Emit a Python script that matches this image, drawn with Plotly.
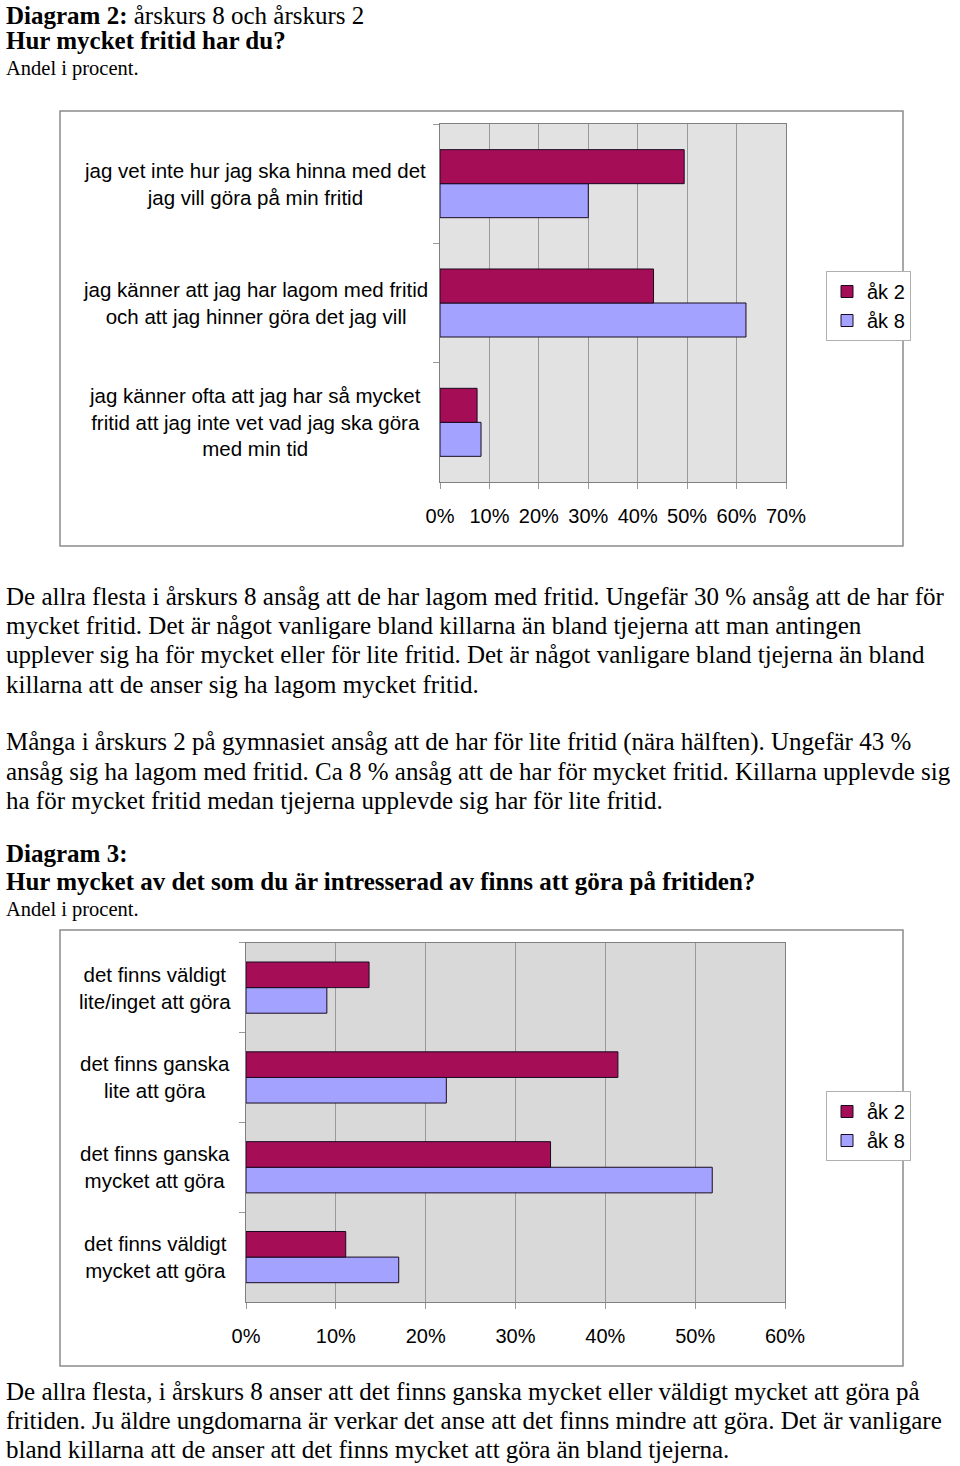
import plotly.graph_objects as go

W, H = 960, 1466

# ---------- data ----------
series_names = ["åk 2", "åk 8"]
colors = {"åk 2": "#a50d57", "åk 8": "#a3a3ff"}

# Diagram 2 (categories listed bottom -> top)
cats1 = [
    "jag känner ofta att jag har så mycket<br>fritid att jag inte vet vad jag ska göra<br>med min tid",
    "jag känner att jag har lagom med fritid<br>och att jag hinner göra det jag vill",
    "jag vet inte hur jag ska hinna med det<br>jag vill göra på min fritid",
]
ak2_d2 = [0.075, 0.432, 0.494]
ak8_d2 = [0.083, 0.619, 0.300]

# Diagram 3 (categories listed bottom -> top)
cats2 = [
    "det finns väldigt<br>mycket att göra",
    "det finns ganska<br>mycket att göra",
    "det finns ganska<br>lite att göra",
    "det finns väldigt<br>lite/inget att göra",
]
ak2_d3 = [0.111, 0.339, 0.414, 0.137]
ak8_d3 = [0.170, 0.519, 0.223, 0.090]

x_ticks1 = [0, 0.1, 0.2, 0.3, 0.4, 0.5, 0.6, 0.7]
x_ticks2 = [0, 0.1, 0.2, 0.3, 0.4, 0.5, 0.6]

# ---------- layout helpers ----------
def py(px):
    return 1 - px / H

def pxx(px):
    return px / W

SANS = "Arial, Liberation Sans, sans-serif"
SERIF = "Times New Roman, Liberation Serif, serif"

fig = go.Figure()

# Chart 1 traces (åk 8 first so it sits below åk 2 in each group)
fig.add_trace(go.Bar(y=cats1, x=ak8_d2, orientation="h", name="åk 8",
                     marker=dict(color=colors["åk 8"], line=dict(color="#1a0a20", width=1)),
                     xaxis="x", yaxis="y", legend="legend"))
fig.add_trace(go.Bar(y=cats1, x=ak2_d2, orientation="h", name="åk 2",
                     marker=dict(color=colors["åk 2"], line=dict(color="#1a0a20", width=1)),
                     xaxis="x", yaxis="y", legend="legend"))
# Chart 2 traces
fig.add_trace(go.Bar(y=cats2, x=ak8_d3, orientation="h", name="åk 8",
                     marker=dict(color=colors["åk 8"], line=dict(color="#1a0a20", width=1)),
                     xaxis="x2", yaxis="y2", legend="legend2"))
fig.add_trace(go.Bar(y=cats2, x=ak2_d3, orientation="h", name="åk 2",
                     marker=dict(color=colors["åk 2"], line=dict(color="#1a0a20", width=1)),
                     xaxis="x2", yaxis="y2", legend="legend2"))

axis_common = dict(showline=True, linecolor="#808080", linewidth=1, mirror=True,
                   ticks="outside", ticklen=6, tickcolor="#999999", zeroline=False,
                   automargin=False)

fig.update_layout(
    width=W, height=H,
    autosize=False,
    margin=dict(l=0, r=0, t=0, b=0, pad=0, autoexpand=False),
    paper_bgcolor="white",
    barmode="group",
    bargap=0.43,
    bargroupgap=0,
    showlegend=True,
    xaxis=dict(domain=[pxx(440), pxx(786)], anchor="y", range=[0, 0.7],
               tickvals=x_ticks1, tickformat=".0%", showgrid=True, gridcolor="#9a9a9a",
               tickfont=dict(family=SANS, size=20, color="black"), ticklabelstandoff=10,
               **axis_common),
    yaxis=dict(domain=[py(482), py(124)], anchor="x", showticklabels=False,
               tickson="boundaries", showgrid=False, **axis_common),
    xaxis2=dict(domain=[pxx(246), pxx(785)], anchor="y2", range=[0, 0.6],
                tickvals=x_ticks2, tickformat=".0%", showgrid=True, gridcolor="#9a9a9a",
                tickfont=dict(family=SANS, size=20, color="black"), ticklabelstandoff=10,
                **axis_common),
    yaxis2=dict(domain=[py(1302), py(942.7)], anchor="x2", showticklabels=False,
                tickson="boundaries", showgrid=False, **axis_common),
    legend=dict(x=pxx(826), y=py(271), xanchor="left", yanchor="top",
                bordercolor="#b0b0b0", borderwidth=1, bgcolor="white",
                traceorder="reversed", font=dict(family=SANS, size=20, color="black"),
                itemwidth=30, tracegroupgap=0),
    legend2=dict(x=pxx(826), y=py(1091), xanchor="left", yanchor="top",
                 bordercolor="#b0b0b0", borderwidth=1, bgcolor="white",
                 traceorder="reversed", font=dict(family=SANS, size=20, color="black"),
                 itemwidth=30, tracegroupgap=0),
    plot_bgcolor="#e2e2e2",
)

shapes = []
# outer chart frames
shapes.append(dict(type="rect", xref="paper", yref="paper", x0=pxx(60), x1=pxx(903),
                   y0=py(546), y1=py(111), line=dict(color="#8c8c8c", width=1.5)))
shapes.append(dict(type="rect", xref="paper", yref="paper", x0=pxx(60), x1=pxx(903),
                   y0=py(1366), y1=py(930), line=dict(color="#8c8c8c", width=1.5)))
# second plot area background (slightly darker than the first)
shapes.append(dict(type="rect", xref="x2 domain", yref="y2 domain", x0=0, x1=1, y0=0, y1=1,
                   fillcolor="#d9d9d9", line=dict(width=0), layer="below"))
fig.update_layout(shapes=shapes)

annotations = []
# category labels (centered multi-line), positioned via category axes
for c in cats1:
    annotations.append(dict(text=c, xref="paper", yref="y", x=pxx(255), y=c,
                            xanchor="center", yanchor="middle", align="center",
                            showarrow=False, font=dict(family=SANS, size=20.5, color="black")))
for c in cats2:
    annotations.append(dict(text=c, xref="paper", yref="y2", x=pxx(155), y=c,
                            xanchor="center", yanchor="middle", align="center",
                            showarrow=False, font=dict(family=SANS, size=20.5, color="black")))

text_lines = [
    ("<b>Diagram 2:</b> årskurs 8 och årskurs 2", 16, 25),
    ("<b>Hur mycket fritid har du?</b>", 41, 25),
    ("Andel i procent.", 68, 20.5),
    ("De allra flesta i årskurs 8 ansåg att de har lagom med fritid. Ungefär 30 % ansåg att de har för", 596, 25),
    ("mycket fritid. Det är något vanligare bland killarna än bland tjejerna att man antingen", 625, 25),
    ("upplever sig ha för mycket eller för lite fritid. Det är något vanligare bland tjejerna än bland", 654, 25),
    ("killarna att de anser sig ha lagom mycket fritid.", 684, 25),
    ("Många i årskurs 2 på gymnasiet ansåg att de har för lite fritid (nära hälften). Ungefär 43 %", 742, 25),
    ("ansåg sig ha lagom med fritid. Ca 8 % ansåg att de har för mycket fritid. Killarna upplevde sig", 771, 25),
    ("ha för mycket fritid medan tjejerna upplevde sig har för lite fritid.", 800, 25),
    ("<b>Diagram 3:</b>", 853, 25),
    ("<b>Hur mycket av det som du är intresserad av finns att göra på fritiden?</b>", 882, 25),
    ("Andel i procent.", 909, 20.5),
    ("De allra flesta, i årskurs 8 anser att det finns ganska mycket eller väldigt mycket att göra på", 1391, 25),
    ("fritiden. Ju äldre ungdomarna är verkar det anse att det finns mindre att göra. Det är vanligare", 1420, 25),
    ("bland killarna att de anser att det finns mycket att göra än bland tjejerna.", 1449, 25),
]
for t, ypx, fs in text_lines:
    annotations.append(dict(text=t, xref="paper", yref="paper", x=pxx(4), y=py(ypx),
                            xanchor="left", yanchor="middle", align="left", showarrow=False,
                            font=dict(family=SERIF, size=fs, color="black")))
fig.update_layout(annotations=annotations)

fig.write_html("out.html", config={"responsive": False})
